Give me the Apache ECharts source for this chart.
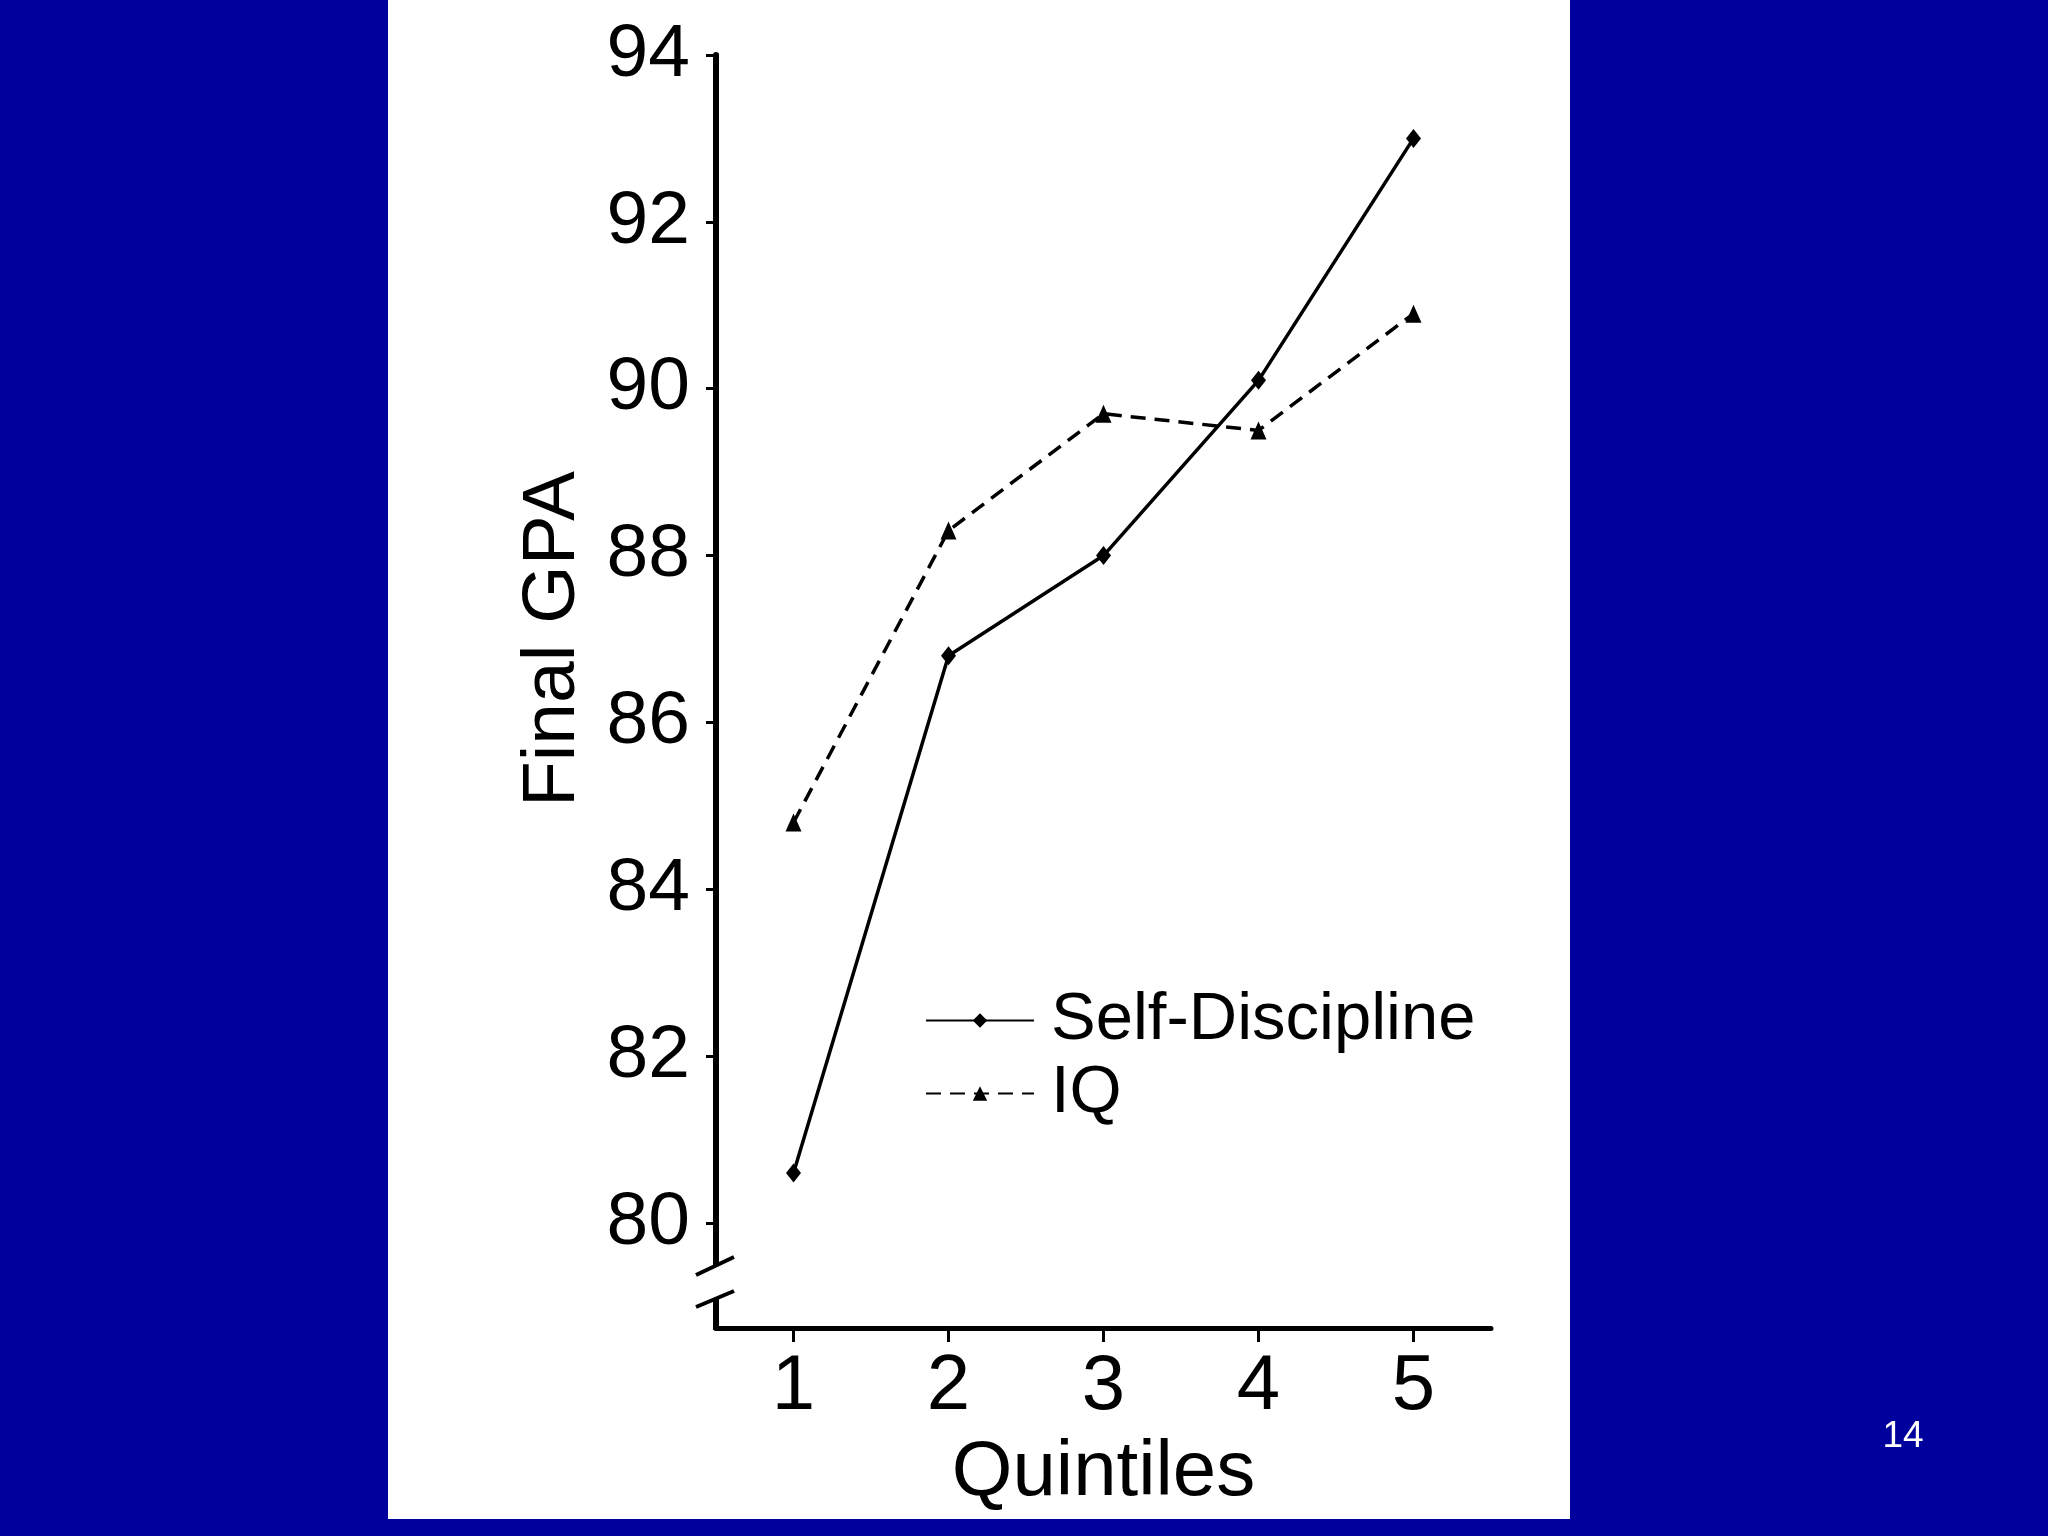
<!DOCTYPE html>
<html>
<head>
<meta charset="utf-8">
<script src="https://cdn.jsdelivr.net/npm/echarts@6/dist/echarts.min.js"></script>
<style>
  html, body { margin: 0; padding: 0; background: #00009C; }
  #chart { width: 2048px; height: 1536px; }
</style>
</head>
<body>
<div id="chart"></div>
<script>
const categories = ['1', '2', '3', '4', '5'];
const selfDiscipline = [80.6, 86.8, 88.0, 90.1, 93.0];
const iq = [84.8, 88.3, 89.7, 89.5, 90.9];
const seriesNames = ['Self-Discipline', 'IQ'];
const yMin = 80, yMax = 94, yStep = 2;
const xTitle = 'Quintiles';
const yTitle = 'Final GPA';
const pageNumber = '14';

const FONT = '"Liberation Sans", Arial, sans-serif';
const chart = echarts.init(document.getElementById('chart'), null, { renderer: 'canvas' });

const option = {
  animation: false,
  backgroundColor: '#00009C',
  grid: { left: 716, right: 557, top: 55, bottom: 313, containLabel: false },
  xAxis: {
    type: 'category',
    data: categories,
    boundaryGap: true,
    offset: 105,
    name: xTitle,
    nameLocation: 'middle',
    nameGap: 106,
    nameTextStyle: { fontFamily: FONT, fontSize: 78, color: '#000' },
    axisLine: { show: true, lineStyle: { color: '#000', width: 5 } },
    axisTick: { show: true, alignWithLabel: true, length: 14, lineStyle: { color: '#000', width: 3 } },
    axisLabel: { fontFamily: FONT, fontSize: 78, color: '#000', margin: 20 },
    splitLine: { show: false }
  },
  yAxis: {
    type: 'value',
    min: yMin, max: yMax, interval: yStep,
    name: yTitle,
    nameLocation: 'middle',
    nameGap: 125,
    nameTextStyle: { fontFamily: FONT, fontSize: 75, color: '#000' },
    axisLine: { show: true, lineStyle: { color: '#000', width: 6 } },
    axisTick: { show: true, inside: false, length: 10, lineStyle: { color: '#000', width: 3 } },
    axisLabel: { fontFamily: FONT, fontSize: 75, color: '#000', margin: 26 },
    splitLine: { show: false }
  },
  legend: {
    orient: 'vertical',
    left: 920,
    top: 982,
    itemWidth: 108,
    itemHeight: 18,
    itemGap: 6,
    textStyle: { fontFamily: FONT, fontSize: 67, color: '#000', padding: [0, 0, 0, 12] },
    data: seriesNames
  },
  series: [
    {
      name: seriesNames[0],
      type: 'line',
      data: selfDiscipline,
      symbol: 'diamond',
      symbolSize: [15, 19],
      itemStyle: { color: '#000' },
      lineStyle: { color: '#000', width: 3.5, type: 'solid' },
      z: 3
    },
    {
      name: seriesNames[1],
      type: 'line',
      data: iq,
      symbol: 'triangle',
      symbolSize: [16, 18],
      itemStyle: { color: '#000' },
      lineStyle: { color: '#000', width: 3.5, type: [15, 9] },
      z: 3
    }
  ]
};

chart.setOption(option);

// Axis break decoration, positioned from the axes themselves
const gridRect = chart.getModel().getComponent('grid', 0).coordinateSystem.getRect();
const axisX = gridRect.x;
const y80 = chart.convertToPixel({ yAxisIndex: 0 }, yMin);
const xAxisY = y80 + 105;
const lineStyle = { stroke: '#000', lineWidth: 6 };
const slashStyle = { stroke: '#000', lineWidth: 4 };

chart.setOption({
  graphic: {
    elements: [
      { type: 'rect', z: -100, silent: true,
        shape: { x: 388, y: 0, width: 1182, height: 1519 },
        style: { fill: '#FFFFFF' } },
      { type: 'line', z: 10, silent: true,
        shape: { x1: axisX, y1: y80, x2: axisX, y2: y80 + 42 }, style: lineStyle },
      { type: 'line', z: 10, silent: true,
        shape: { x1: axisX - 20, y1: y80 + 52, x2: axisX + 18, y2: y80 + 34 }, style: slashStyle },
      { type: 'line', z: 10, silent: true,
        shape: { x1: axisX - 20, y1: y80 + 84, x2: axisX + 18, y2: y80 + 68 }, style: slashStyle },
      { type: 'line', z: 10, silent: true,
        shape: { x1: axisX, y1: y80 + 76, x2: axisX, y2: xAxisY + 2 }, style: lineStyle },
      { type: 'text', z: 10, silent: true,
        style: { x: 1903, y: 1437, text: pageNumber, fill: '#FFFFFF',
                 font: '37px ' + FONT, textAlign: 'center', textVerticalAlign: 'middle' } }
    ]
  }
});
</script>
</body>
</html>
